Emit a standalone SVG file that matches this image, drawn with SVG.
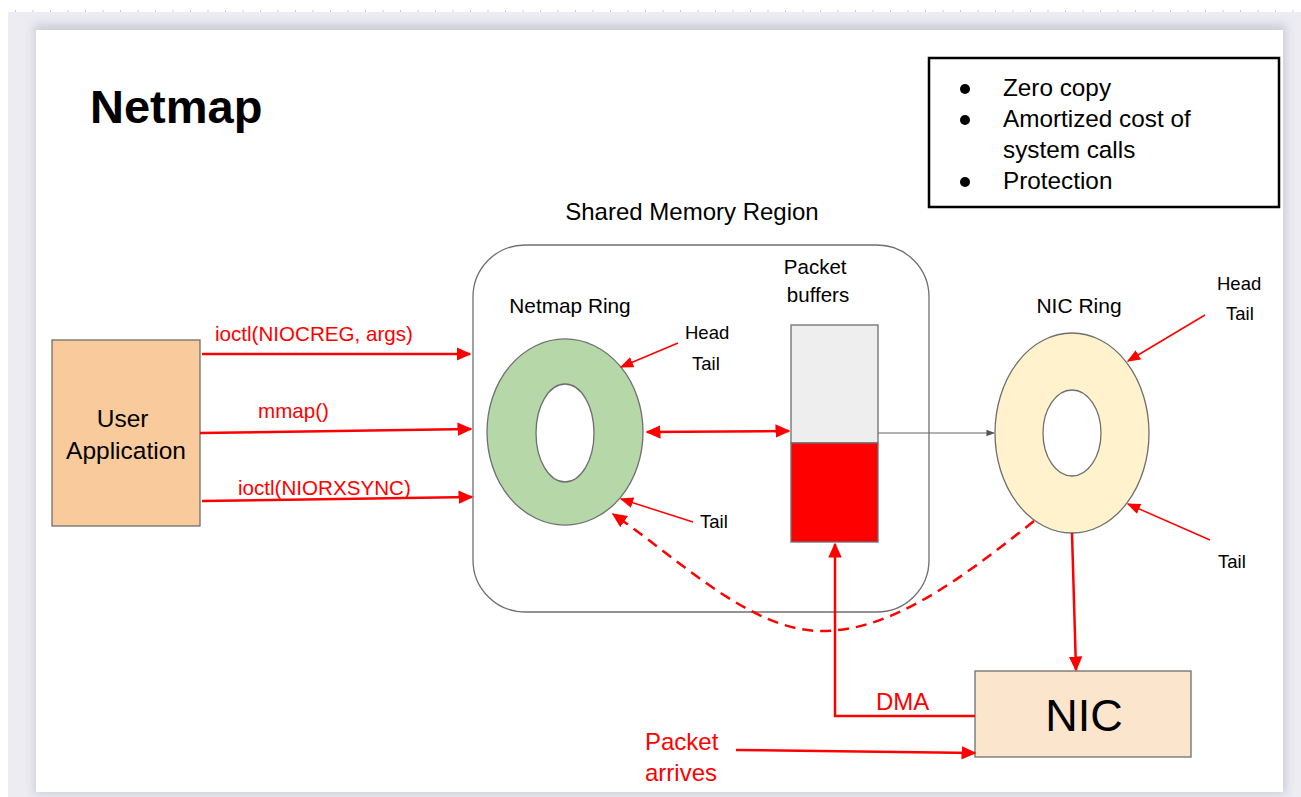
<svg xmlns="http://www.w3.org/2000/svg" width="1301" height="797" viewBox="0 0 1301 797">
  <style>
    .t { font-family: "Liberation Sans", Arial, sans-serif; fill: #000; }
    .r { font-family: "Liberation Sans", Arial, sans-serif; fill: #ff0000; }
    .red { stroke: #ff0000; fill: none; }
    .outline { stroke: #6f6f6f; stroke-width: 1.3; }
  </style>
  <defs>
    <marker id="ah" viewBox="0 0 10 10" refX="9" refY="5" markerWidth="6" markerHeight="6" orient="auto-start-reverse" markerUnits="strokeWidth">
      <path d="M0,0.5 L10,5 L0,9.5 z" fill="#ff0000"/>
    </marker>
    <marker id="ahs" viewBox="0 0 10 10" refX="9" refY="5" markerWidth="9" markerHeight="9" orient="auto" markerUnits="strokeWidth">
      <path d="M0,1 L10,5 L0,9 z" fill="#ff0000"/>
    </marker>
    <marker id="ahg" viewBox="0 0 10 10" refX="9" refY="5" markerWidth="7" markerHeight="7" orient="auto" markerUnits="strokeWidth">
      <path d="M0,1 L10,5 L0,9 z" fill="#555"/>
    </marker>
    <filter id="shadow" x="-5%" y="-5%" width="110%" height="110%">
      <feGaussianBlur stdDeviation="5"/>
    </filter>
    <pattern id="ticks" x="15" y="0" width="17.5" height="14" patternUnits="userSpaceOnUse">
      <rect x="0" y="10" width="1" height="2" fill="#c8c8d0"/>
    </pattern>
  </defs>

  <!-- page background and slide -->
  <rect x="0" y="0" width="1301" height="797" fill="#ffffff"/>
  <rect x="0" y="0" width="1301" height="13" fill="url(#ticks)"/>
  <rect x="8" y="12" width="1293" height="785" fill="#ececf2"/>
  <rect x="34" y="24" width="1252" height="770" fill="#b8b8c4" filter="url(#shadow)" opacity="0.6"/>
  <rect x="36" y="30" width="1247" height="762" fill="#ffffff"/>

  <!-- title -->
  <text class="t" x="90" y="123" font-size="47" font-weight="bold">Netmap</text>

  <!-- feature list -->
  <g id="features">
    <rect x="929" y="58" width="350" height="149" fill="#fff" stroke="#000" stroke-width="2.5"/>
    <circle cx="965" cy="89" r="5" fill="#000"/>
    <circle cx="965" cy="120" r="5" fill="#000"/>
    <circle cx="965" cy="182" r="5" fill="#000"/>
    <text class="t" font-size="24.3">
      <tspan x="1003" y="96">Zero copy</tspan>
      <tspan x="1003" y="127">Amortized cost of</tspan>
      <tspan x="1003" y="158">system calls</tspan>
      <tspan x="1003" y="189">Protection</tspan>
    </text>
  </g>

  <!-- shared memory region -->
  <g id="shared-memory">
    <text class="t" x="692" y="220" font-size="24" text-anchor="middle">Shared Memory Region</text>
    <rect x="473" y="245" width="456" height="367" rx="52" fill="none" class="outline"/>
  </g>

  <!-- user application -->
  <g id="user-app">
    <rect x="52" y="340" width="148" height="186" fill="#f9cb9c" class="outline"/>
    <text class="t" font-size="24.5" text-anchor="middle">
      <tspan x="126" y="427">User</tspan>
      <tspan x="126" y="459">Application</tspan>
    </text>
  </g>

  <!-- netmap ring -->
  <g id="netmap-ring">
    <text class="t" x="570" y="313" font-size="20.8" text-anchor="middle">Netmap Ring</text>
    <path d="M487,432 a78,93 0 1,0 156,0 a78,93 0 1,0 -156,0 z M536,433 a29,49 0 1,1 58,0 a29,49 0 1,1 -58,0 z" fill="#b6d7a8" fill-rule="evenodd" class="outline"/>
    <text class="t" x="685" y="339" font-size="18.5">Head</text>
    <text class="t" x="692" y="370" font-size="18.5">Tail</text>
    <text class="t" x="700" y="528" font-size="18.5">Tail</text>
  </g>

  <!-- packet buffers -->
  <g id="packet-buffers">
    <text class="t" font-size="20.5" text-anchor="middle">
      <tspan x="818" y="274">Packet</tspan>
      <tspan x="818" y="302">buffers</tspan>
    </text>
    <rect x="791" y="325" width="87" height="118" fill="#eeeeee" class="outline"/>
    <rect x="791" y="443" width="87" height="99" fill="#ff0000" class="outline"/>
  </g>

  <!-- NIC ring -->
  <g id="nic-ring">
    <text class="t" x="1079" y="313" font-size="21" text-anchor="middle">NIC Ring</text>
    <path d="M995,433 a77,100 0 1,0 154,0 a77,100 0 1,0 -154,0 z M1043,433 a29,43 0 1,1 58,0 a29,43 0 1,1 -58,0 z" fill="#fff2cc" fill-rule="evenodd" class="outline"/>
    <text class="t" x="1217" y="290" font-size="18.5">Head</text>
    <text class="t" x="1226" y="320" font-size="18.5">Tail</text>
    <text class="t" x="1218" y="568" font-size="18.5">Tail</text>
  </g>

  <!-- NIC -->
  <g id="nic">
    <rect x="975" y="671" width="216" height="86" fill="#fce5cd" class="outline"/>
    <text class="t" x="1084" y="731" font-size="45" text-anchor="middle">NIC</text>
  </g>

  <!-- labels on connectors -->
  <g id="labels">
    <text class="r" x="215" y="341" font-size="20.6">ioctl(NIOCREG, args)</text>
    <text class="r" x="258" y="418" font-size="20.6">mmap()</text>
    <text class="r" x="238" y="495" font-size="20.6">ioctl(NIORXSYNC)</text>
    <text class="r" x="876" y="710" font-size="24">DMA</text>
    <text class="r" font-size="24">
      <tspan x="645" y="750">Packet</tspan>
      <tspan x="645" y="781">arrives</tspan>
    </text>
  </g>

  <!-- connectors -->
  <g id="connectors">
    <!-- system calls from the application -->
    <path class="red" d="M202,354 L470,354" stroke-width="2.5" marker-end="url(#ah)"/>
    <path class="red" d="M200,433 L471,429" stroke-width="2.5" marker-end="url(#ah)"/>
    <path class="red" d="M202,501 L472,497" stroke-width="2.5" marker-end="url(#ah)"/>
    <!-- ring to buffers, both ways -->
    <path class="red" d="M647,432 L789,431" stroke-width="2.5" marker-start="url(#ah)" marker-end="url(#ah)"/>
    <!-- buffers to NIC ring -->
    <path d="M878,433 L994,433" stroke="#666" stroke-width="1.2" fill="none" marker-end="url(#ahg)"/>
    <!-- head/tail pointers -->
    <path class="red" d="M678,343 L621,367" stroke-width="1.5" marker-end="url(#ahs)"/>
    <path class="red" d="M693,522 L621,499" stroke-width="1.5" marker-end="url(#ahs)"/>
    <path class="red" d="M1205,315 L1128,361" stroke-width="1.5" marker-end="url(#ahs)"/>
    <path class="red" d="M1210,540 L1128,504" stroke-width="1.5" marker-end="url(#ahs)"/>
    <!-- NIC ring sync back to netmap ring -->
    <path class="red" d="M1034,521 C960,580 890,632 820,631 C750,630 680,560 613,514" stroke-width="2.5" stroke-dasharray="11,7" marker-end="url(#ah)"/>
    <!-- NIC ring to NIC -->
    <path class="red" d="M1072,533 L1076,670" stroke-width="2.5" marker-end="url(#ah)"/>
    <!-- DMA into buffers -->
    <path class="red" d="M975,716 L835,716 L835,544" stroke-width="2.5" marker-end="url(#ah)"/>
    <!-- packet arrives -->
    <path class="red" d="M736,750 L975,753" stroke-width="2.5" marker-end="url(#ah)"/>
  </g>
</svg>
